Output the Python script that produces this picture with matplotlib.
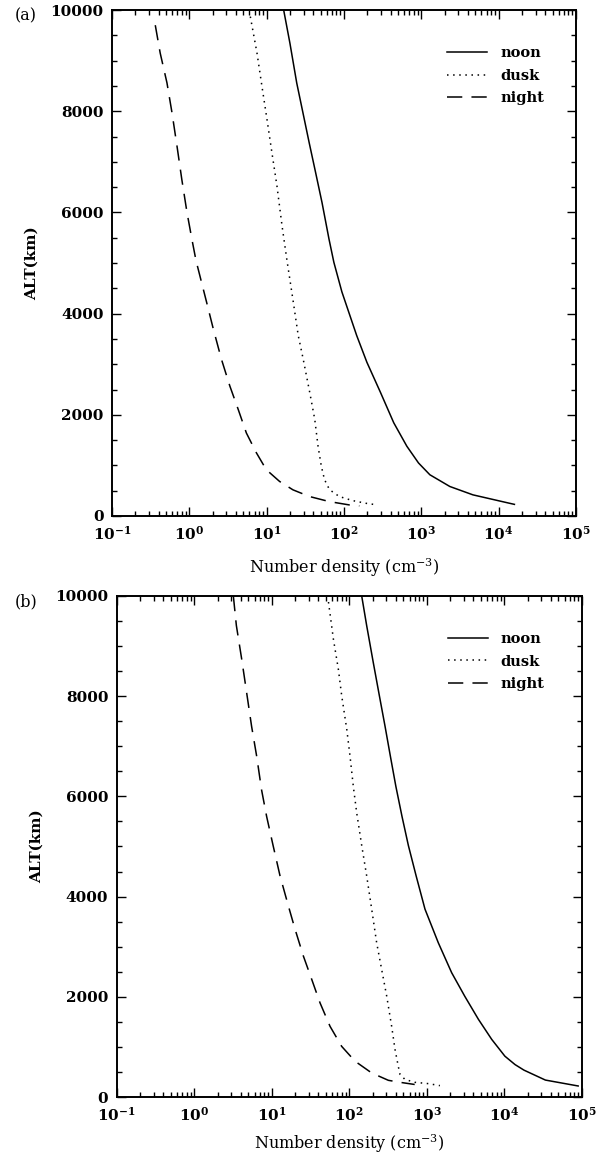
import numpy as np
import matplotlib
matplotlib.use("Agg")
import matplotlib.pyplot as plt
from matplotlib.ticker import LogLocator, NullFormatter, MultipleLocator

plt.rcParams["font.family"] = "DejaVu Serif"
plt.rcParams["mathtext.fontset"] = "dejavuserif"

# ---- panel (a): altitude (km) / number density (cm^-3) ----
NOON_A_ALT = [10000, 9344, 8557, 7966, 7376, 6786, 6195, 5474, 5014, 4429, 3567,
              3037, 2440, 1843, 1379, 1048, 815, 583, 418, 252, 230]
NOON_A_DEN = [16.6, 20.0, 24.5, 29.5, 35.5, 43, 52, 64, 74, 94, 146,
              198, 297, 440, 650, 920, 1290, 2340, 4650, 13800, 16000]
DUSK_A_ALT = [9870, 9150, 8490, 7840, 7180, 6520, 5740, 5080, 4230, 3570, 3100,
              2440, 1910, 1380, 980, 720, 520, 385, 305, 252, 219]
DUSK_A_DEN = [6.15, 7.5, 8.7, 10.1, 11.7, 13.6, 15.8, 18.2, 22.1, 25.6, 29.7,
              36.1, 41.9, 46.2, 51, 56, 65, 87, 129, 191, 270]
NIGHT_A_ALT = [9700, 9150, 8560, 7970, 7310, 6650, 6000, 5470, 5050, 4230, 3700,
               3100, 2570, 2110, 1640, 1250, 915, 683, 517, 385, 285, 219, 199]
NIGHT_A_DEN = [0.363, 0.42, 0.514, 0.597, 0.693, 0.80, 0.933, 1.08, 1.22, 1.67, 2.04,
               2.6, 3.34, 4.28, 5.47, 7.36, 9.9, 14.7, 21.9, 35.8, 64.6, 117, 158]

# ---- panel (b) ----
NOON_B_ALT = [10000, 9410, 8680, 8010, 7400, 6800, 6200, 5600, 5020, 4415, 3750,
              3080, 2480, 2010, 1550, 1150, 815, 647, 536, 338, 220]
NOON_B_DEN = [145, 168, 204, 245, 290, 340, 400, 480, 580, 730, 950,
              1410, 2100, 3100, 4650, 6900, 10200, 13800, 18000, 34000, 90000]
DUSK_B_ALT = [9880, 9140, 8540, 8010, 7340, 6800, 6200, 5670, 5020, 4415, 3750,
              3080, 2550, 2010, 1410, 950, 610, 450, 350, 293, 267, 227]
DUSK_B_DEN = [54, 62.5, 72.4, 80, 93, 102.5, 113, 125, 145, 168, 195,
              226, 262, 305, 353, 390, 430, 453, 525, 705, 1050, 1480]
NIGHT_B_ALT = [10000, 9410, 8740, 8070, 7400, 6800, 6130, 5600, 5040, 4415, 3815,
               3350, 2815, 2350, 1880, 1410, 1010, 714, 480, 333, 293, 250]
NIGHT_B_DEN = [3.2, 3.5, 4.1, 4.75, 5.5, 6.4, 7.4, 8.6, 10.35, 12.8, 16.4,
               20, 25.6, 32.8, 42, 56.6, 80, 119, 195, 320, 453, 700]

LABELS = ["noon", "dusk", "night"]
STYLES = ["-", (0, (1, 3)), (0, (10, 6))]


def draw_panel(ax, curves, tag, leg_x, xlab_y):
    for (den, alt), style, name in zip(curves, STYLES, LABELS):
        ax.plot(den, alt, color="black", linestyle=style, linewidth=1.1, label=name)
    ax.set_xscale("log")
    ax.set_xlim(1e-1, 1e5)
    ax.set_ylim(0, 10000)
    ax.xaxis.set_major_locator(LogLocator(base=10, numticks=10))
    ax.xaxis.set_minor_locator(LogLocator(base=10, subs=np.arange(2, 10), numticks=20))
    ax.xaxis.set_minor_formatter(NullFormatter())
    ax.yaxis.set_major_locator(MultipleLocator(2000))
    ax.yaxis.set_minor_locator(MultipleLocator(500))
    ax.tick_params(which="both", direction="in", top=True, right=True,
                   labelsize=11, width=1.0)
    ax.tick_params(which="major", length=6.5, pad=6)
    ax.tick_params(which="minor", length=3.5)
    for lab in ax.get_xticklabels() + ax.get_yticklabels():
        lab.set_fontweight("bold")
    for s in ax.spines.values():
        s.set_linewidth(1.4)
    ax.set_xlabel("Number density (cm$^{-3}$)", fontsize=11.5)
    ax.xaxis.set_label_coords(0.5, xlab_y)
    ax.set_ylabel("ALT(km)", fontsize=11, fontweight="bold")
    ax.yaxis.set_label_coords(-0.157, 0.5)
    fig.text(0.024, ax.get_position().y1 - 0.005, tag, fontsize=11.5,
             ha="left", va="center")
    leg = ax.legend(loc="upper left", frameon=False, fontsize=10.5,
                    handlelength=2.74, handletextpad=0.9, labelspacing=0.58,
                    borderpad=0, borderaxespad=0,
                    bbox_to_anchor=(leg_x, 0.928))
    for t in leg.get_texts():
        t.set_fontweight("bold")


fig = plt.figure(figsize=(6.05, 11.54), dpi=100)
ax_a = fig.add_axes([0.1851, 0.55286, 0.7669, 0.43847])
ax_b = fig.add_axes([0.1929, 0.04939, 0.7686, 0.43415])

draw_panel(ax_a, [(NOON_A_DEN, NOON_A_ALT), (DUSK_A_DEN, DUSK_A_ALT),
                  (NIGHT_A_DEN, NIGHT_A_ALT)], "(a)", 0.722, -0.080)
draw_panel(ax_b, [(NOON_B_DEN, NOON_B_ALT), (DUSK_B_DEN, DUSK_B_ALT),
                  (NIGHT_B_DEN, NIGHT_B_ALT)], "(b)", 0.712, -0.071)

fig.savefig("out.png", dpi=100)
